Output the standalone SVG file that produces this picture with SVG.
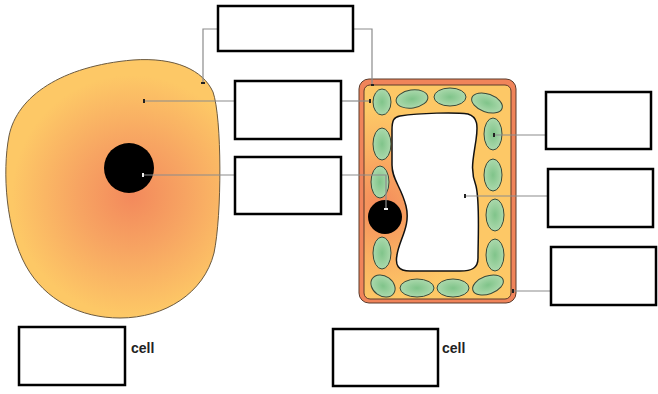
<svg xmlns="http://www.w3.org/2000/svg" width="658" height="394" viewBox="0 0 658 394">
  <style>
    .box{fill:#fff;stroke:#000;stroke-width:2.5}
    .lead{fill:none;stroke:#8c8c8c;stroke-width:1.2}
    .tick{fill:#222}
    .chl{fill:url(#chlGrad);stroke:#3a4a3a;stroke-width:1}
    .lbl{font-family:"Liberation Sans",Arial,sans-serif;font-weight:bold;font-size:14px;fill:#222}
  </style>
  <defs>
    <radialGradient id="animalGrad" cx="132" cy="195" r="120" gradientUnits="userSpaceOnUse">
      <stop offset="0" stop-color="#F3895C"/>
      <stop offset="0.45" stop-color="#F7A462"/>
      <stop offset="1" stop-color="#FDC866"/>
    </radialGradient>
    <radialGradient id="plantGrad" cx="380" cy="205" r="95" gradientUnits="userSpaceOnUse">
      <stop offset="0" stop-color="#F48A5B"/>
      <stop offset="0.55" stop-color="#FAB062"/>
      <stop offset="1" stop-color="#FDC866"/>
    </radialGradient>
    <radialGradient id="chlGrad" cx="0.5" cy="0.5" r="0.6">
      <stop offset="0" stop-color="#80C48A"/>
      <stop offset="1" stop-color="#B4DDB3"/>
    </radialGradient>
  </defs>

  <!-- animal cell -->
  <g id="animal-cell">
    <path d="M133,60 C175,57 203,70 213,92 C222,118 222,215 214,253 C204,293 165,318 120,318 C80,318 45,300 26,266 C6,230 2,172 9,136 C17,96 62,66 133,60 Z" fill="url(#animalGrad)" stroke="#6b5a40" stroke-width="1"/>
    <circle cx="129" cy="168" r="25" fill="#000"/>
  </g>

  <!-- plant cell -->
  <g id="plant-cell">
    <rect x="359" y="79" width="157" height="224" rx="10" fill="#F0845A" stroke="#5a3a2a" stroke-width="1"/>
    <rect x="364" y="85" width="147" height="214" rx="6" fill="url(#plantGrad)" stroke="#5a3a2a" stroke-width="1"/>
    <path d="M400,116 C420,113 455,112 468,114 C478,117 478,126 476,140 C473,160 470,170 476,186 C480,202 478,240 478,258 C478,268 472,271 460,271 L410,271 C398,271 395,265 397,255 C399,240 411,226 406,206 C401,186 392,180 392,165 L392,130 C392,120 394,117 400,116 Z" fill="#fff" stroke="#111" stroke-width="1.5"/>
    <g id="chloroplasts">
      <ellipse class="chl" cx="382" cy="102" rx="9" ry="13"/>
      <ellipse class="chl" cx="382" cy="144" rx="9" ry="16"/>
      <ellipse class="chl" cx="380" cy="182" rx="9" ry="16"/>
      <ellipse class="chl" cx="382" cy="253" rx="9" ry="16"/>
      <ellipse class="chl" cx="383" cy="286" rx="13" ry="10" transform="rotate(35 383 286)"/>
      <ellipse class="chl" cx="417" cy="288" rx="17" ry="9"/>
      <ellipse class="chl" cx="453" cy="288" rx="16" ry="9"/>
      <ellipse class="chl" cx="488" cy="285" rx="16" ry="9" transform="rotate(-20 488 285)"/>
      <ellipse class="chl" cx="412" cy="99" rx="16" ry="9" transform="rotate(-8 412 99)"/>
      <ellipse class="chl" cx="450" cy="97" rx="16" ry="9"/>
      <ellipse class="chl" cx="487" cy="103" rx="16" ry="9" transform="rotate(20 487 103)"/>
      <ellipse class="chl" cx="493" cy="134" rx="9" ry="16"/>
      <ellipse class="chl" cx="493" cy="175" rx="9" ry="16"/>
      <ellipse class="chl" cx="495" cy="215" rx="9" ry="16"/>
      <ellipse class="chl" cx="495" cy="255" rx="9" ry="16"/>
    </g>
    <circle cx="385" cy="217" r="17" fill="#000"/>
  </g>

  <!-- leader lines -->
  <g id="connectors">
    <polyline class="lead" points="218,29 203,29 203,83"/>
    <polyline class="lead" points="353,29 372,29 372,85"/>
    <line class="lead" x1="145" y1="101" x2="235" y2="101"/>
    <line class="lead" x1="341" y1="101" x2="370" y2="101"/>
    <line class="lead" x1="143" y1="175" x2="235" y2="175"/>
    <polyline class="lead" points="341,175 386,175 386,209"/>
    <line class="lead" x1="494" y1="135" x2="546" y2="135"/>
    <line class="lead" x1="465" y1="196" x2="548" y2="196"/>
    <line class="lead" x1="513" y1="291" x2="551" y2="291"/>
    <rect class="tick" x="201" y="82" width="4" height="2"/>
    <rect class="tick" x="371" y="84" width="3" height="2"/>
    <rect class="tick" x="143" y="99" width="2" height="4"/>
    <rect class="tick" x="369" y="99" width="2" height="4"/>
    <rect x="142" y="173" width="2" height="4" fill="#eee"/>
    <rect x="384" y="208" width="4" height="2" fill="#eee"/>
    <rect class="tick" x="493" y="133" width="2" height="4"/>
    <rect class="tick" x="464" y="194" width="2" height="4"/>
    <rect class="tick" x="512" y="289" width="2" height="4"/>
  </g>

  <!-- label boxes -->
  <g id="box-top"><rect class="box" x="218" y="6" width="135" height="45"/></g>
  <g id="box-mid-1"><rect class="box" x="235" y="81" width="106" height="58"/></g>
  <g id="box-mid-2"><rect class="box" x="235" y="157" width="106" height="57"/></g>
  <g id="box-right-1"><rect class="box" x="546" y="92" width="105" height="57"/></g>
  <g id="box-right-2"><rect class="box" x="548" y="169" width="105" height="58"/></g>
  <g id="box-right-3"><rect class="box" x="551" y="247" width="105" height="58"/></g>
  <g id="box-animal-name">
    <rect class="box" x="19" y="327" width="106" height="58"/>
    <text class="lbl" x="131" y="353">cell</text>
  </g>
  <g id="box-plant-name">
    <rect class="box" x="333" y="329" width="105" height="57"/>
    <text class="lbl" x="442" y="353">cell</text>
  </g>
</svg>
